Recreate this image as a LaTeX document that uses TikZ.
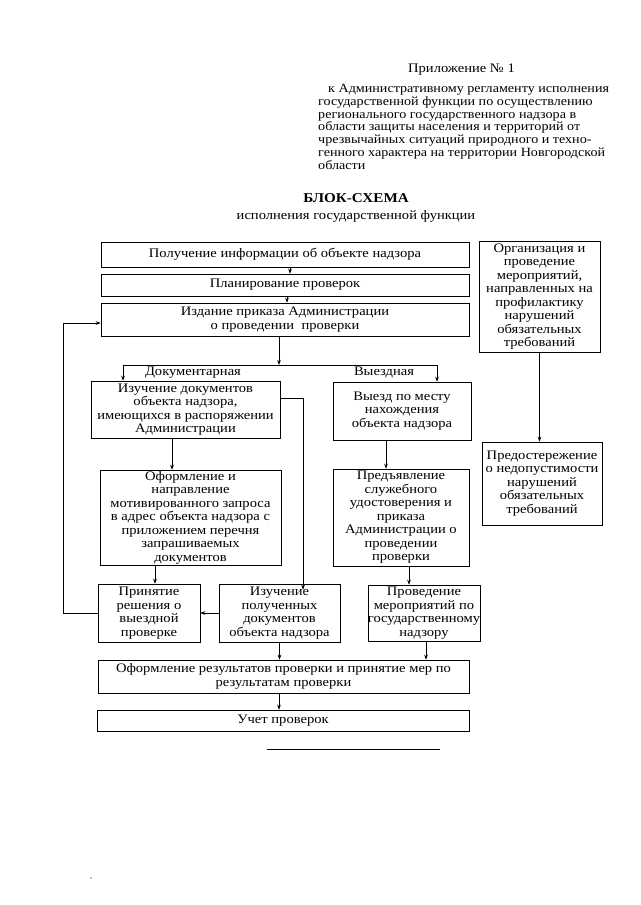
\documentclass[tikz,border=0pt]{standalone}
\usepackage{fontspec}
\setmainfont[FakeStretch=1.12]{Liberation Serif}
\usetikzlibrary{arrows.meta,calc}
\tikzset{
  x=1pt, y=-1pt,
  box/.style={draw, line width=0.6pt, inner sep=0pt, align=center,
    font=\fontsize{13}{13.5}\selectfont},
  lbl/.style={inner sep=0pt, font=\fontsize{13}{13.5}\selectfont},
  arr/.style={-{Stealth[length=5pt,width=3.6pt]}, line width=0.6pt},
  ln/.style={line width=0.6pt}
}
\begin{document}
\begin{tikzpicture}
\path[fill=white, use as bounding box] (0,0) rectangle (640,905);

% header
\node[anchor=west, inner sep=0pt, font=\fontsize{13}{13.5}\selectfont] (app) at (408,70) {Приложение № 1};
\node[anchor=north west, inner sep=0pt, align=left,
  font=\fontsize{12.6}{12.8}\selectfont] (para) at (318,84)
  {\hspace*{10pt}к Административному регламенту исполнения\\
   государственной функции по осуществлению\\
   регионального государственного надзора в\\
   области защиты населения и территорий от\\
   чрезвычайных ситуаций природного и техно-\\
   генного характера на территории Новгородской\\
   области};
\node[lbl, font=\fontsize{13.5}{14}\selectfont\bfseries] (title) at (356,198) {БЛОК-СХЕМА};
\node[lbl] (subtitle) at (356,216) {исполнения государственной функции};

% main column
\node[box, minimum width=368pt, minimum height=25pt] (b1) at (285,254.5) {Получение информации об объекте надзора};
\node[box, minimum width=368pt, minimum height=22pt] (b2) at (285,285) {Планирование проверок};
\node[box, minimum width=368pt, minimum height=33pt] (b3) at (285,319.5) {Издание приказа Администрации\\о проведении\ \ проверки};

% right column
\node[box, minimum width=121pt, minimum height=111pt] (r1) at (539.5,296.5) {Организация и\\проведение\\мероприятий,\\направленных на\\профилактику\\нарушений\\обязательных\\требований};
\node[box, minimum width=120pt, minimum height=83pt] (r2) at (542,483.5) {Предостережение\\о недопустимости\\нарушений\\обязательных\\требований};

% branch labels
\node[lbl] (lab1) at (193,373) {Документарная};
\node[lbl] (lab2) at (384,372) {Выездная};

% second level
\node[box, minimum width=189pt, minimum height=57pt] (d1) at (185.5,409.5) {Изучение документов\\объекта надзора,\\имеющихся в распоряжении\\Администрации};
\node[box, minimum width=138pt, minimum height=58pt] (v1) at (402,411) {Выезд по месту\\нахождения\\объекта надзора};
\node[box, minimum width=181pt, minimum height=95pt] (d2) at (190.5,517.5) {Оформление и\\направление\\мотивированного запроса\\в адрес объекта надзора с\\приложением перечня\\запрашиваемых\\документов};
\node[box, minimum width=136pt, minimum height=97pt] (v2) at (401,517.5) {Предъявление\\служебного\\удостоверения и\\приказа\\Администрации о\\проведении\\проверки};

% third level
\node[box, minimum width=102pt, minimum height=58pt] (p) at (149,613) {Принятие\\решения о\\выездной\\проверке};
\node[box, minimum width=121pt, minimum height=58pt] (i2) at (279.5,613) {Изучение\\полученных\\документов\\объекта надзора};
\node[box, minimum width=108pt, minimum height=56pt] (pr) at (424,613) {Проведение\\мероприятий по\\государственному\\надзору};

% bottom
\node[box, minimum width=371pt, minimum height=33pt] (o) at (283.5,676.5) {Оформление результатов проверки и принятие мер по\\результатам проверки};
\node[box, minimum width=372pt, minimum height=21pt] (u) at (283,720.5) {Учет проверок};

% connectors
\draw[arr] ([xshift=5pt]b1.south) -- ([xshift=5pt]b2.north);
\draw[arr] ([xshift=2pt]b2.south) -- ([xshift=2pt]b3.north);
\coordinate (bl) at (123,365);
\coordinate (brr) at (437,365);
\coordinate (b3out) at ([xshift=-6pt]b3.south);
\draw[arr] (b3out) -- (b3out |- bl);
\draw[ln] (bl) -- (brr);
\draw[arr] (bl) -- (bl |- d1.north);
\draw[arr] (brr) -- (brr |- v1.north);
\draw[arr] (r1.south) -- (r1.south |- r2.north);

\coordinate (c1) at ([xshift=-13.5pt]d1.south);
\draw[arr] (c1) -- (c1 |- d2.north);
\coordinate (c1v) at ([xshift=-16pt]v1.south);
\draw[arr] (c1v) -- (c1v |- v2.north);

\coordinate (c2) at ([yshift=11.5pt]d1.east);
\coordinate (c3) at ([xshift=23.5pt,yshift=-6pt]i2.north);
\draw[arr] (c2) -| (c3);

\coordinate (c4) at ([xshift=-35.5pt]d2.south);
\draw[arr] (c4) -- (c4 |- p.north);
\coordinate (c5) at ([xshift=8pt]v2.south);
\draw[arr] (c5) -- (c5 |- pr.north);

\draw[arr] (i2.west) -- (p.east);
\coordinate (fb) at ([yshift=-3.5pt]b3.west);
\draw[arr] (p.west) -- ++(-34,0) |- (fb);

\draw[arr] (i2.south) -- (i2.south |- o.north);
\coordinate (c6) at ([xshift=2pt]pr.south);
\draw[arr] (c6) -- (c6 |- o.north);
\coordinate (c7) at ([xshift=-4.5pt]o.south);
\draw[arr] (c7) -- (c7 |- u.north);

% closing rule and dot
\draw[ln] (267,749) -- (440,749);
\fill (91,878) circle (0.6pt);
\end{tikzpicture}
\end{document}
